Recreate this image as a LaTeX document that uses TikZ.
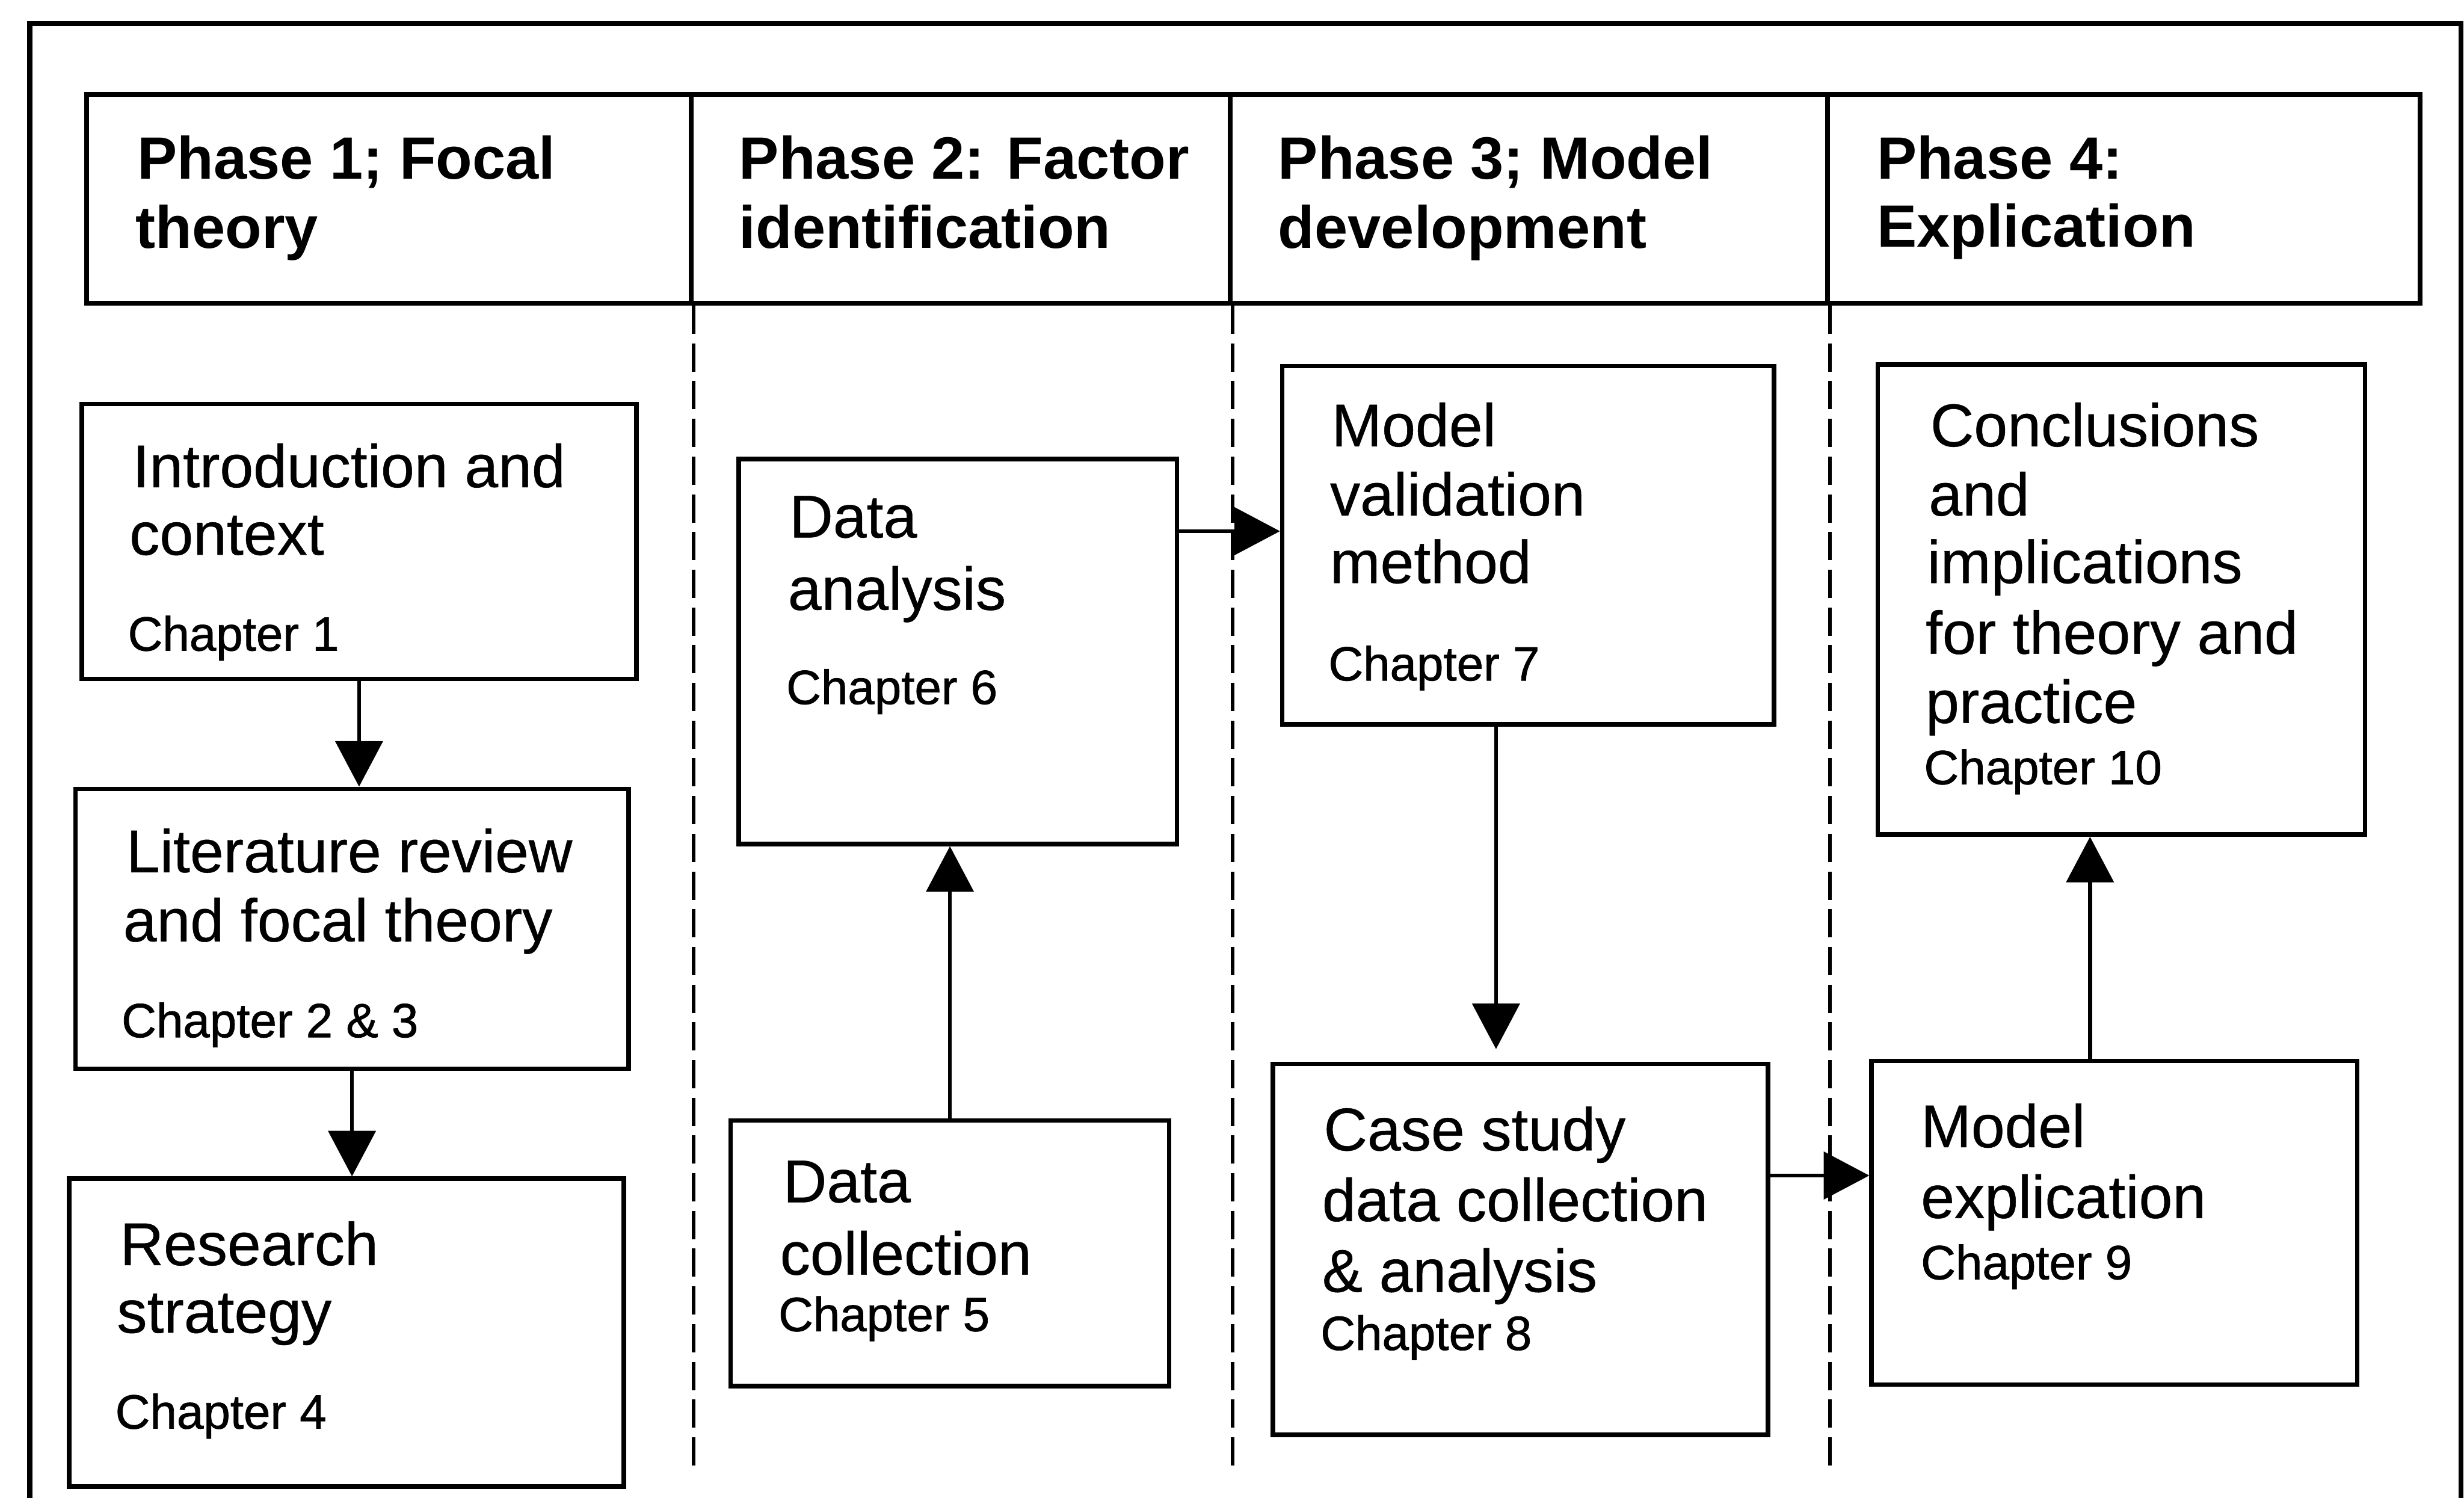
\documentclass[tikz,border=0pt]{standalone}
\usepackage{fontspec}
\setmainfont{Liberation Sans}
\newfontfamily\stagefont[FakeBold=0.5]{Liberation Sans}
\newfontfamily\chapfont[FakeBold=1.0]{Liberation Sans}
\usetikzlibrary{arrows.meta,fit}
\begin{document}
\begin{tikzpicture}[x=0.5pt,y=-0.5pt,
  frame/.style={line width=1.6pt},
  cell/.style={draw, line width=1.5pt, inner sep=0pt, rectangle},
  stagebox/.style={draw, line width=1.45pt, inner sep=0pt, rectangle},
  head/.style={anchor=base west, inner sep=0pt, font=\fontsize{19}{22}\selectfont\bfseries},
  body/.style={anchor=base west, inner sep=0pt, font=\fontsize{19.2}{22}\stagefont},
  chap/.style={anchor=base west, inner sep=0pt, font=\fontsize{15.3}{18}\chapfont},
  flow/.style={line width=1.25pt, -{Triangle[length=14.5pt,width=15pt]}},
  divider/.style={line width=1.2pt, dash pattern=on 9pt off 3pt}]
\useasboundingbox (0,0) rectangle (1568,953);

% outer frame (open at the bottom)
\draw[frame] (19,953) -- (19,15) -- (1566,15) -- (1566,953);

% phase header cells
\node[cell, fit={(55,60) (440,193)}] (h1) {};
\node[cell, fit={(440,60) (783,193)}] (h2) {};
\node[cell, fit={(783,60) (1163,193)}] (h3) {};
\node[cell, fit={(1163,60) (1540,193)}] (h4) {};

\node[head] (h1a) at (87,114) {Phase 1; Focal};
\node[head] (h1b) at (86,158) {theory};
\node[head] (h2a) at (470,114) {Phase 2: Factor};
\node[head] (h2b) at (470,158) {identification};
\node[head] (h3a) at (813,114) {Phase 3; Model};
\node[head] (h3b) at (813,158) {development};
\node[head] (h4a) at (1194,114) {Phase 4:};
\node[head] (h4b) at (1194,157) {Explication};

% dashed phase dividers
\coordinate (dashend) at (0,935);
\draw[divider] (h1.south east) -- (h1.south east |- dashend);
\draw[divider] (h2.south east) -- (h2.south east |- dashend);
\draw[divider] (h3.south east) -- (h3.south east |- dashend);

% phase 1
\node[stagebox, fit={(52,257) (405,432)}] (intro) {};
\node[body] (introa) at (84,310) {Introduction and};
\node[body] (introb) at (82,353) {context};
\node[chap] (introc) at (81,414) {Chapter 1};

\node[stagebox, fit={(48,502) (400,680)}] (lit) {};
\node[body] (lita) at (80,555) {Literature review};
\node[body] (litb) at (78,599) {and focal theory};
\node[chap] (litc) at (77,660) {Chapter 2 \& 3};

\node[stagebox, fit={(44,750) (397,946)}] (strat) {};
\node[body] (strata) at (76,805) {Research};
\node[body] (stratb) at (74,848) {strategy};
\node[chap] (stratc) at (73,909) {Chapter 4};

% phase 2
\node[stagebox, fit={(470,292) (749,537)}] (anal) {};
\node[body] (anala) at (502,342) {Data};
\node[body] (analb) at (501,388) {analysis};
\node[chap] (analc) at (500,448) {Chapter 6};

\node[stagebox, fit={(465,713) (744,882)}] (coll) {};
\node[body] (colla) at (498,765) {Data};
\node[body] (collb) at (496,811) {collection};
\node[chap] (collc) at (495,847) {Chapter 5};

% phase 3
\node[stagebox, fit={(816,233) (1129,461)}] (valid) {};
\node[body] (valida) at (847,284) {Model};
\node[body] (validb) at (846,328) {validation};
\node[body] (validc) at (846,371) {method};
\node[chap] (validd) at (845,433) {Chapter 7};

\node[stagebox, fit={(810,677) (1125,913)}] (case) {};
\node[body] (casea) at (842,732) {Case study};
\node[body] (caseb) at (841,777) {data collection};
\node[body] (casec) at (841,822) {\& analysis};
\node[chap] (cased) at (840,859) {Chapter 8};

% phase 4
\node[stagebox, fit={(1195,232) (1505,531)}] (concl) {};
\node[body] (concla) at (1228,284) {Conclusions};
\node[body] (conclb) at (1227,328) {and};
\node[body] (conclc) at (1226,371) {implications};
\node[body] (concld) at (1225,416) {for theory and};
\node[body] (concle) at (1225,460) {practice};
\node[chap] (conclf) at (1224,499) {Chapter 10};

\node[stagebox, fit={(1191,675) (1500,881)}] (expl) {};
\node[body] (expla) at (1222,730) {Model};
\node[body] (explb) at (1222,775) {explication};
\node[chap] (explc) at (1222,814) {Chapter 9};

% connectors
\coordinate (anrow) at (0,338);
\coordinate (csrow) at (0,748);
\coordinate (vcol) at (952,0);
\coordinate (ecol) at (1330,0);

\draw[flow] (intro.south) -- (intro.south |- lit.north);
\draw[flow] (lit.south) -- (lit.south |- strat.north);
\draw[flow] (coll.north) -- (coll.north |- anal.south);
\draw[flow] (anal.east |- anrow) -- (valid.west |- anrow);
\draw[flow, shorten >=4pt] (vcol |- valid.south) -- (vcol |- case.north);
\draw[flow] (case.east |- csrow) -- (expl.west |- csrow);
\draw[flow] (ecol |- expl.north) -- (ecol |- concl.south);
\end{tikzpicture}
\end{document}
